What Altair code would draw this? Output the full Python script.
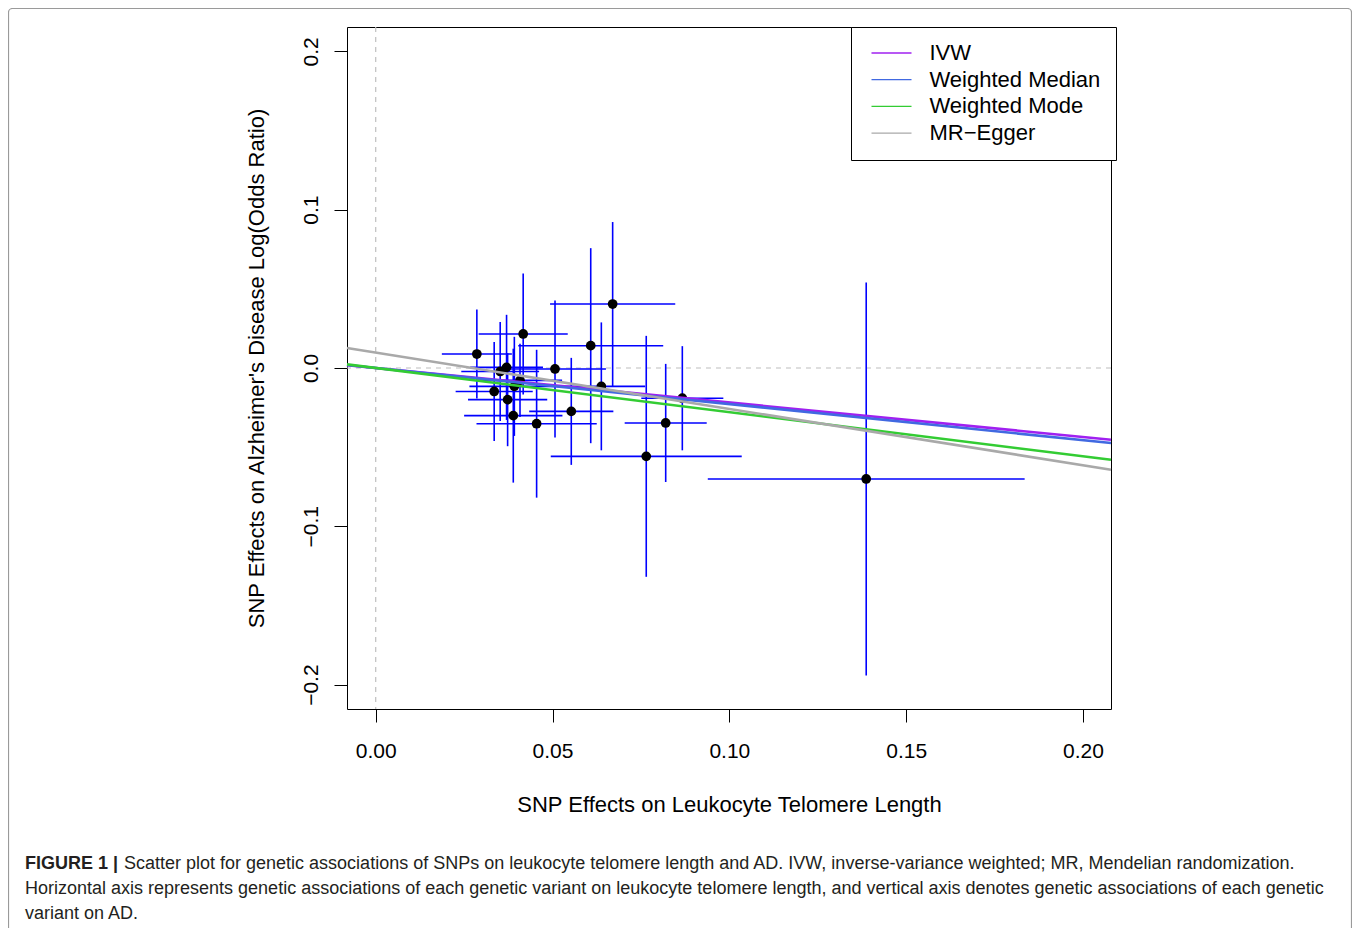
import altair as alt
import pandas as pd

# ---- data ----
x_beta = [0.0286, 0.0417, 0.0670, 0.0608, 0.0507, 0.0370, 0.0352, 0.0408, 0.0392, 0.0335,
          0.0373, 0.0389, 0.0455, 0.0553, 0.0638, 0.0820, 0.0765, 0.0867, 0.1387]
x_se = [0.0099, 0.0126, 0.0177, 0.0205, 0.0144, 0.0103, 0.0110, 0.0119, 0.0127, 0.0109,
        0.0112, 0.0139, 0.0170, 0.0119, 0.0124, 0.0116, 0.0270, 0.0116, 0.0448]
y_beta = [0.0088, 0.0215, 0.0404, 0.0141, -0.0006, 0.0004, -0.0022, -0.0078, -0.0116, -0.0148,
          -0.0200, -0.0301, -0.0352, -0.0274, -0.0116, -0.0347, -0.0558, -0.0191, -0.0701]
y_se = [0.0281, 0.0382, 0.0518, 0.0616, 0.0433, 0.0332, 0.0313, 0.0231, 0.0313, 0.0313,
        0.0294, 0.0423, 0.0467, 0.0338, 0.0404, 0.0373, 0.0761, 0.0329, 0.1241]

methods = ["IVW", "Weighted Median", "Weighted Mode", "MR\u2212Egger"]
slopes = [-0.218, -0.228, -0.279, -0.356]
intercepts = [0.0, 0.0, 0.0, 0.00975]
colors = ["#A020F0", "#4169E1", "#33CC33", "#A9A9A9"]

x_ticks = [0.0, 0.05, 0.10, 0.15, 0.20]
y_ticks = [-0.2, -0.1, 0.0, 0.1, 0.2]

x_title = "SNP Effects on Leukocyte Telomere Length"
y_title = "SNP Effects on Alzheimer's Disease Log(Odds Ratio)"

caption_bold = "FIGURE 1 |"
caption_lines = [
    "Scatter plot for genetic associations of SNPs on leukocyte telomere length and AD. IVW, inverse-variance weighted; MR, Mendelian randomization.",
    "Horizontal axis represents genetic associations of each genetic variant on leukocyte telomere length, and vertical axis denotes genetic associations of each genetic",
    "variant on AD.",
]

XDOM = [-0.00812, 0.20792]
YDOM = [-0.2154, 0.2154]
FONT = "Liberation Sans"
W, H = 764, 682

# ---- tables ----
snp = pd.DataFrame({"bx": x_beta, "sx": x_se, "by": y_beta, "sy": y_se})
snp["xlo"] = snp.bx - snp.sx
snp["xhi"] = snp.bx + snp.sx
snp["ylo"] = snp.by - snp.sy
snp["yhi"] = snp.by + snp.sy

rows = []
for i, (m, b, a) in enumerate(zip(methods, slopes, intercepts)):
    for xv in XDOM:
        rows.append({"method": m, "order": i, "x": xv, "y": a + b * xv})
fits = pd.DataFrame(rows)

xs = alt.Scale(domain=XDOM, nice=False, zero=False)
ys = alt.Scale(domain=YDOM, nice=False, zero=False)

x_axis = alt.Axis(values=x_ticks, format=".2f", title=x_title, labelPadding=18,
                  titleY=102, titleBaseline="alphabetic", titleAnchor="middle")
y_axis = alt.Axis(values=y_ticks, format=".1f", title=y_title, labelAngle=270,
                  labelAlign="center", labelBaseline="alphabetic", labelPadding=17,
                  titleX=-83.5, titleY=H / 2, titleAngle=270, titleAlign="center",
                  titleBaseline="alphabetic")

base = alt.Chart(snp)

hbars = base.mark_rule(color="#0000FF", strokeWidth=1.6).encode(
    x=alt.X("xlo:Q", scale=xs, axis=x_axis), x2="xhi:Q",
    y=alt.Y("by:Q", scale=ys, axis=y_axis))
vbars = base.mark_rule(color="#0000FF", strokeWidth=1.6).encode(
    x=alt.X("bx:Q", scale=xs), y=alt.Y("ylo:Q", scale=ys), y2="yhi:Q")
pts = base.mark_circle(color="black", opacity=1, size=95).encode(
    x=alt.X("bx:Q", scale=xs), y=alt.Y("by:Q", scale=ys))

ref_x = alt.Chart(pd.DataFrame({"v": [0.0]})).mark_rule(
    color="#BEBEBE", strokeDash=[5, 5], strokeWidth=1.2).encode(x=alt.X("v:Q", scale=xs))
ref_y = alt.Chart(pd.DataFrame({"v": [0.0]})).mark_rule(
    color="#BEBEBE", strokeDash=[5, 5], strokeWidth=1.2).encode(y=alt.Y("v:Q", scale=ys))

lines = alt.Chart(fits).mark_line(strokeWidth=2.6).encode(
    x=alt.X("x:Q", scale=xs), y=alt.Y("y:Q", scale=ys),
    order="order:Q",
    color=alt.Color("method:N", sort=methods,
                    scale=alt.Scale(domain=methods, range=colors),
                    legend=alt.Legend(title=None, orient="none", legendX=504, legendY=0,
                                      direction="vertical", symbolType="M-4,0H4",
                                      symbolSize=100, symbolStrokeWidth=1.3,
                                      symbolOffset=14.5,
                                      labelFont=FONT, labelFontSize=22, labelColor="black",
                                      labelOffset=27, padding=15, rowPadding=4.7,
                                      fillColor="white", strokeColor="black",
                                      labelLimit=400)))

cap_df = pd.DataFrame({"t": [0]})
cap_layers = [
    alt.Chart(cap_df).mark_text(text=caption_bold, font=FONT, fontSize=18, fontWeight="bold",
                                color="#231F20", align="left", baseline="middle").encode(
        x=alt.value(25 - 347), y=alt.value(864 - 27)),
]
for k, (txt, px, py) in enumerate(zip(caption_lines, [124, 25, 25], [864, 889, 914])):
    cap_layers.append(
        alt.Chart(cap_df).mark_text(text=txt, font=FONT, fontSize=18, color="#231F20",
                                    align="left", baseline="middle").encode(
            x=alt.value(px - 347), y=alt.value(py - 27)))

frame = alt.Chart(cap_df).mark_rect(fill=None, stroke="#9A9A9A", strokeWidth=1.2,
                                    cornerRadius=4).encode(
    x=alt.value(8.5 - 347), x2=alt.value(1351.5 - 347),
    y=alt.value(8.5 - 27), y2=alt.value(960 - 27))

chart = alt.layer(frame, ref_x, ref_y, hbars, vbars, pts, lines, *cap_layers).properties(
    width=W, height=H,
    padding={"left": 339, "top": 19, "right": 241, "bottom": 219},
    autosize=alt.AutoSizeParams(type="none"),
).configure(background="white").configure_view(
    stroke="black", strokeWidth=1
).configure_axis(
    labelFont=FONT, labelFontSize=21, labelColor="black", tickSize=13, tickColor="black",
    tickWidth=1, domain=False, grid=False, titleFont=FONT, titleFontSize=22,
    titleFontWeight="normal", titleColor="black",
)

chart.save("out.html", embed_options={"renderer": "svg", "actions": False})
